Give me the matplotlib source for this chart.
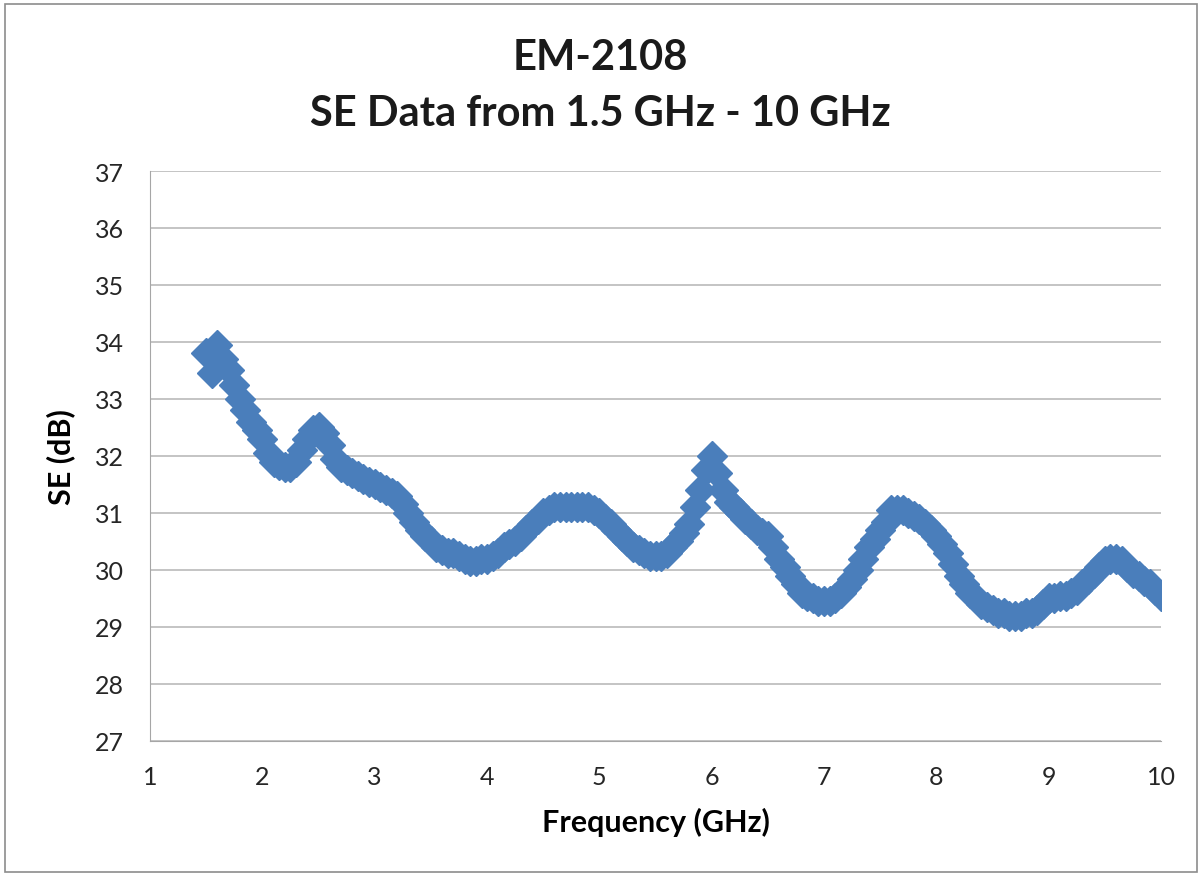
import numpy as np
import matplotlib
matplotlib.use("Agg")
import matplotlib.pyplot as plt
from matplotlib.patches import Rectangle

# frequency (GHz) and shielding effectiveness (dB)
freq = [1.50, 1.55, 1.60, 1.65, 1.70, 1.75, 1.80, 1.85, 1.90, 1.95,
        2.00, 2.05, 2.10, 2.15, 2.20, 2.25, 2.30, 2.35, 2.40, 2.45,
        2.50, 2.55, 2.60, 2.65, 2.70, 2.75, 2.80, 2.85, 2.90, 2.95,
        3.00, 3.05, 3.10, 3.15, 3.20, 3.25, 3.30, 3.35, 3.40, 3.45,
        3.50, 3.55, 3.60, 3.65, 3.70, 3.75, 3.80, 3.85, 3.90, 3.95,
        4.00, 4.05, 4.10, 4.15, 4.20, 4.25, 4.30, 4.35, 4.40, 4.45,
        4.50, 4.55, 4.60, 4.65, 4.70, 4.75, 4.80, 4.85, 4.90, 4.95,
        5.00, 5.05, 5.10, 5.15, 5.20, 5.25, 5.30, 5.35, 5.40, 5.45,
        5.50, 5.55, 5.60, 5.65, 5.70, 5.75, 5.80, 5.85, 5.90, 5.95,
        6.00, 6.05, 6.10, 6.15, 6.20, 6.25, 6.30, 6.35, 6.40, 6.45,
        6.50, 6.55, 6.60, 6.65, 6.70, 6.75, 6.80, 6.85, 6.90, 6.95,
        7.00, 7.05, 7.10, 7.15, 7.20, 7.25, 7.30, 7.35, 7.40, 7.45,
        7.50, 7.55, 7.60, 7.65, 7.70, 7.75, 7.80, 7.85, 7.90, 7.95,
        8.00, 8.05, 8.10, 8.15, 8.20, 8.25, 8.30, 8.35, 8.40, 8.45,
        8.50, 8.55, 8.60, 8.65, 8.70, 8.75, 8.80, 8.85, 8.90, 8.95,
        9.00, 9.05, 9.10, 9.15, 9.20, 9.25, 9.30, 9.35, 9.40, 9.45,
        9.50, 9.55, 9.60, 9.65, 9.70, 9.75, 9.80, 9.85, 9.90, 9.95,
        10.00]
se_db = [33.8, 33.45, 33.95, 33.7, 33.5, 33.25, 33.0, 32.8, 32.6, 32.45,
         32.3, 32.05, 31.9, 31.85, 31.8, 31.8, 31.9, 32.1, 32.3, 32.45,
         32.5, 32.4, 32.2, 31.95, 31.8, 31.75, 31.7, 31.65, 31.6, 31.55,
         31.5, 31.45, 31.4, 31.35, 31.3, 31.15, 31.0, 30.85, 30.7, 30.6,
         30.5, 30.4, 30.35, 30.3, 30.3, 30.25, 30.2, 30.15, 30.15, 30.2,
         30.2, 30.25, 30.3, 30.4, 30.45, 30.5, 30.6, 30.7, 30.8, 30.9,
         31.0, 31.05, 31.1, 31.1, 31.1, 31.1, 31.1, 31.1, 31.1, 31.05,
         31.0, 30.9, 30.8, 30.7, 30.6, 30.5, 30.4, 30.35, 30.3, 30.25,
         30.25, 30.25, 30.3, 30.4, 30.5, 30.65, 30.8, 31.1, 31.4, 31.75,
         32.0, 31.7, 31.4, 31.2, 31.1, 31.0, 30.9, 30.8, 30.7, 30.65,
         30.6, 30.4, 30.2, 30.05, 29.9, 29.75, 29.6, 29.55, 29.5, 29.45,
         29.45, 29.45, 29.5, 29.6, 29.7, 29.85, 30.0, 30.2, 30.4, 30.55,
         30.7, 30.85, 31.05, 31.05, 31.05, 31.0, 30.95, 30.9, 30.8, 30.7,
         30.6, 30.45, 30.3, 30.1, 29.9, 29.75, 29.6, 29.5, 29.4, 29.35,
         29.3, 29.25, 29.25, 29.2, 29.2, 29.2, 29.25, 29.25, 29.3, 29.4,
         29.5, 29.5, 29.55, 29.55, 29.6, 29.65, 29.75, 29.85, 29.95, 30.05,
         30.15, 30.2, 30.2, 30.15, 30.05, 29.95, 29.9, 29.8, 29.75, 29.65,
         29.55]

yticks = list(range(27, 38))
xticks = list(range(1, 11))

plt.rcParams["font.family"] = ["Lato", "DejaVu Sans"]

fig = plt.figure(figsize=(12.01, 8.78), dpi=100)
ax = fig.add_axes([0.1249, 0.1549, 0.8418, 0.6492])

ax.plot(freq, se_db, linestyle="none", marker="D", markersize=15.5,
        color="#4A7EBB", markeredgecolor="#4A7EBB", zorder=3)

ax.set_xlim(1, 10)
ax.set_ylim(27, 37)
ax.set_xticks(xticks)
ax.set_yticks(yticks)
ax.tick_params(length=0, labelsize=18, colors="#262626")
ax.tick_params(axis="x", pad=17)
ax.tick_params(axis="y", pad=19)
ax.grid(axis="y", color="#BFBFBF", linewidth=1.3)
ax.set_axisbelow(True)
for side in ["top", "right"]:
    ax.spines[side].set_visible(False)
ax.spines["left"].set_color("#A6A6A6")
ax.spines["bottom"].set_color("#A6A6A6")

ax.set_xlabel("Frequency (GHz)", fontsize=22, fontweight="bold", labelpad=14)
ax.set_ylabel("SE (dB)", fontsize=22, fontweight="bold", labelpad=14)

fig.text(0.5, 0.934, "EM-2108", ha="center", va="center",
         fontsize=30, fontweight="bold", color="#1a1a1a")
fig.text(0.5, 0.870, "SE Data from 1.5 GHz - 10 GHz", ha="center", va="center",
         fontsize=30, fontweight="bold", color="#1a1a1a")

# chart frame
fig.patches.append(Rectangle((0.004, 0.006), 0.993, 0.988, transform=fig.transFigure,
                             fill=False, edgecolor="#8C8C8C", linewidth=1.2))

fig.savefig("out.png", dpi=100)
